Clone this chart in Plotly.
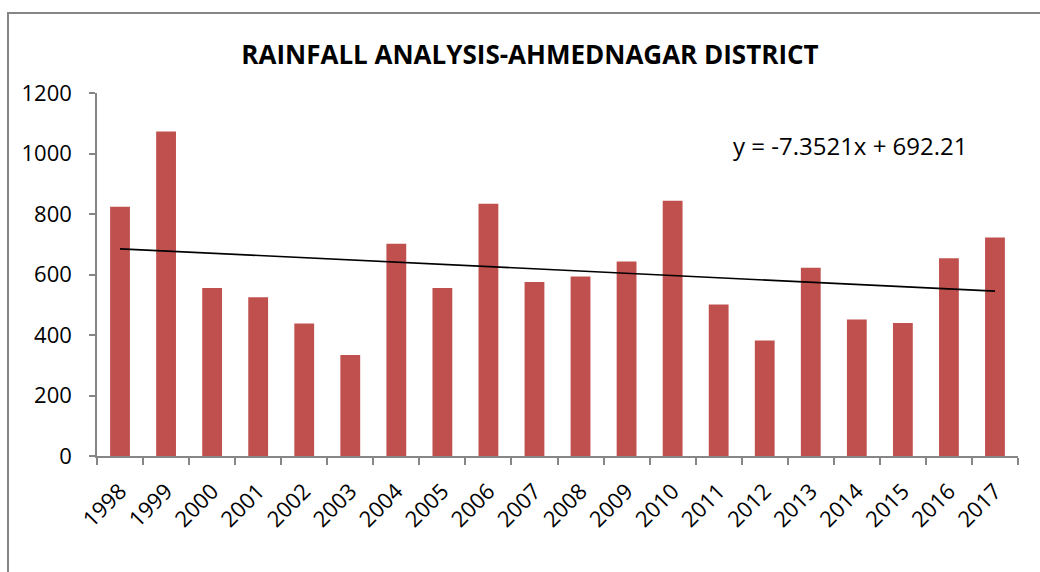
import plotly.graph_objects as go

years = ["1998", "1999", "2000", "2001", "2002", "2003", "2004", "2005", "2006", "2007",
         "2008", "2009", "2010", "2011", "2012", "2013", "2014", "2015", "2016", "2017"]
rainfall = [824, 1073, 555, 525, 438, 334, 702, 555, 834, 575,
            593, 643, 844, 501, 382, 622, 451, 440, 654, 722]
trend_slope = -7.3521
trend_intercept = 692.21
y_ticks = [0, 200, 400, 600, 800, 1000, 1200]

trend = [trend_slope * (i + 1) + trend_intercept for i in range(len(years))]

W, H = 1040, 572
L, R, T, B = 97, 22, 93, 116
pw, ph = W - L - R, H - T - B

def px(x):
    return (x - L) / pw

def py(y):
    return (H - B - y) / ph

FONT = "Open Sans, Liberation Sans, sans-serif"

fig = go.Figure()
fig.add_trace(go.Bar(x=years, y=rainfall, marker=dict(color="#C0504D", line=dict(width=0)),
                     name="Rainfall"))
fig.add_trace(go.Scatter(x=years, y=trend, mode="lines", line=dict(color="black", width=1.6),
                         name="Linear trend"))

fig.update_layout(
    width=W, height=H,
    margin=dict(l=L, r=R, t=T, b=B, autoexpand=False),
    paper_bgcolor="white", plot_bgcolor="white",
    showlegend=False,
    bargap=0.57,
    font=dict(family=FONT, color="black", size=22),
    title=dict(text="<b>RAINFALL ANALYSIS-AHMEDNAGAR DISTRICT</b>", xref="container",
               x=530 / W, xanchor="center", y=1 - 55 / H, yanchor="middle",
               font=dict(size=26, family=FONT, color="black")),
    xaxis=dict(type="category", showline=True, linecolor="#868686", linewidth=1.5,
               ticks="outside", tickson="boundaries", ticklen=7, tickcolor="#868686", tickwidth=1.5,
               tickangle=-45, tickfont=dict(size=22), showgrid=False, zeroline=False,
               automargin=False, ticklabelstandoff=12),
    yaxis=dict(range=[0, 1200], tickvals=y_ticks, showline=True, linecolor="#868686", linewidth=1.5,
               ticks="outside", ticklen=6, tickcolor="#868686", tickwidth=1.5,
               tickfont=dict(size=22), showgrid=False, zeroline=False, automargin=False,
               ticklabelstandoff=13),
    annotations=[dict(text="y = -7.3521x + 692.21", xref="paper", yref="paper",
                      x=px(850), y=py(145), xanchor="center", yanchor="middle", showarrow=False,
                      font=dict(size=24, color="black"))],
    shapes=[dict(type="rect", xref="paper", yref="paper", x0=px(8), y0=py(600), x1=px(1060), y1=py(13),
                 line=dict(color="#868686", width=2), fillcolor="rgba(0,0,0,0)", layer="below")],
)

fig.write_html("out.html", config={"displayModeBar": False},
               post_script="document.body.style.margin='0px';document.body.style.overflow='hidden';")
